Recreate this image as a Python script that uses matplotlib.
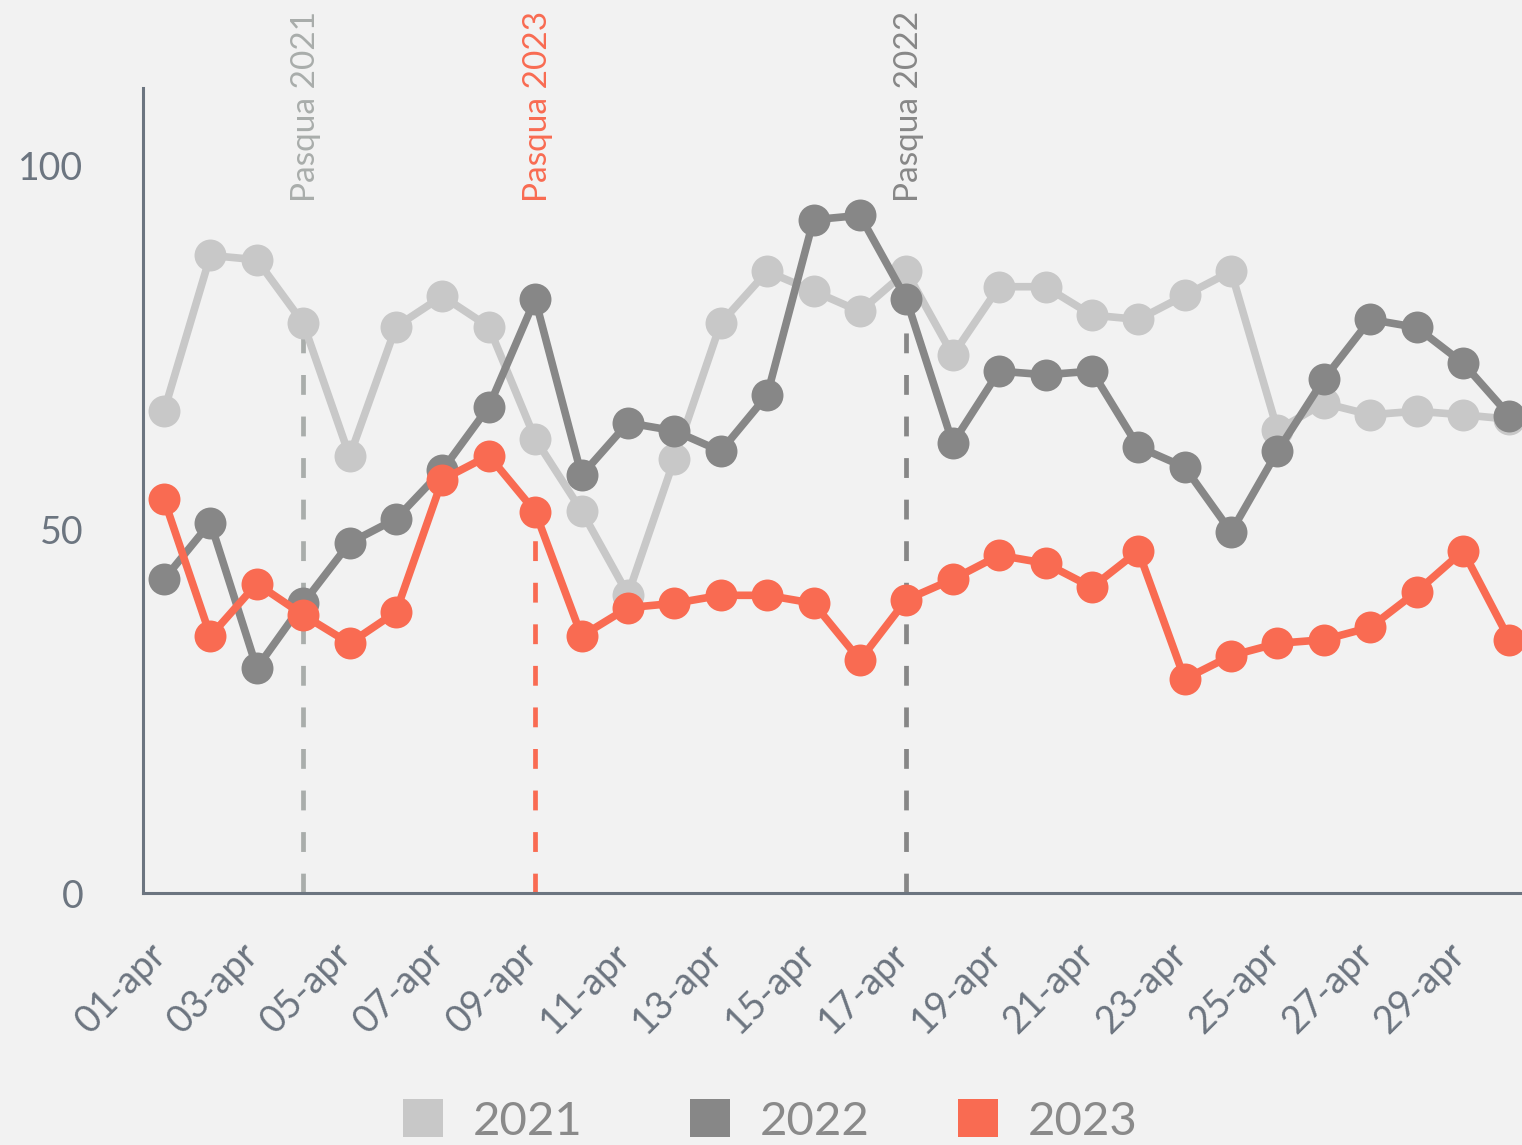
import numpy as np
import matplotlib.pyplot as plt
import matplotlib.transforms as mtransforms
from matplotlib.patches import Patch

plt.rcParams['font.family'] = ['Lato', 'DejaVu Sans']

days = ['%02d-apr' % d for d in range(1, 31)]

v2021 = [66.2, 87.6, 87.0, 78.3, 60.0, 77.8, 82.0, 77.8, 62.4, 52.5,
         41.0, 59.6, 78.3, 85.4, 82.7, 79.9, 85.4, 73.9, 83.3, 83.3,
         79.4, 78.8, 82.1, 85.4, 63.6, 67.3, 65.7, 66.2, 65.7, 65.1]
v2022 = [43.1, 50.9, 30.9, 39.8, 48.1, 51.4, 58.1, 66.8, 81.6, 57.4,
         64.6, 63.5, 60.7, 68.4, 92.5, 93.1, 81.6, 61.8, 71.7, 71.2,
         71.7, 61.3, 58.5, 49.6, 60.7, 70.6, 78.8, 77.7, 72.8, 65.6]
v2023 = [54.1, 35.3, 42.5, 38.2, 34.3, 38.6, 56.8, 60.1, 52.4, 35.3,
         39.2, 39.8, 40.9, 40.9, 39.8, 32.0, 40.3, 43.1, 46.4, 45.3,
         42.0, 47.0, 29.4, 32.6, 34.3, 34.8, 36.5, 41.4, 47.0, 34.8]

years = ['2021', '2022', '2023']
colors = ['#c8c8c8', '#878787', '#f96b52']

# easter day index per year, label color
easter_idx = [3, 16, 8]
easter_col = ['#a9adab', '#878787', '#f96b52']

bg = '#f2f2f2'
axcol = '#6c7580'

fig = plt.figure(figsize=(15.22, 11.45), dpi=100, facecolor=bg)
ax = fig.add_axes([143/1522, 252/1145, 1 - 143/1522, 805/1145])
ax.set_facecolor(bg)

x = np.arange(len(days))
series = [v2021, v2022, v2023]

for i, (vals, idx) in enumerate(zip(series, easter_idx)):
    ax.vlines(x[idx], 0, vals[idx], colors=easter_col[i], linewidth=3.4,
              linestyles=(0, (4.2, 4.6)), zorder=1)
    ax.text(x[idx] + 0.06, 0.858, 'Pasqua ' + years[i], transform=ax.get_xaxis_transform(),
            rotation=90, ha='center', va='bottom', fontsize=24, color=easter_col[i],
            clip_on=False)

for i, vals in enumerate(series):
    ax.plot(x, vals, color=colors[i], linewidth=5.5, marker='o', markersize=23,
            markeredgewidth=0, zorder=2 + i, clip_on=True)

ax.set_xlim(-0.453, 29.27)
ax.set_ylim(0, 110.6)

for s in ['top', 'right']:
    ax.spines[s].set_visible(False)
for s in ['left', 'bottom']:
    ax.spines[s].set_color(axcol)
    ax.spines[s].set_linewidth(2.2)

ax.set_yticks([0, 50, 100])
ax.set_yticklabels(['0', '50', '100'])
ax.tick_params(axis='y', length=0, pad=43, labelsize=27, labelcolor=axcol)

ax.set_xticks(x[::2])
ax.set_xticklabels(days[::2], rotation=45, ha='right', va='top')
ax.tick_params(axis='x', length=0, pad=31, labelsize=27, labelcolor=axcol)
off = mtransforms.ScaledTranslation(9/100, 0, fig.dpi_scale_trans)
for lab in ax.get_xticklabels():
    lab.set_transform(lab.get_transform() + off)

# legend: one entry each, placed where the squares start
leg_x = [403, 690, 958]
for c, yr, lx in zip(colors, years, leg_x):
    leg = fig.legend([Patch(facecolor=c, edgecolor='none')], [yr], loc='center left',
                     bbox_to_anchor=(lx / 1522, 0.021), frameon=False, fontsize=34,
                     handlelength=0.85, handleheight=0.85, handletextpad=0.63,
                     borderpad=0, borderaxespad=0)
    for t in leg.get_texts():
        t.set_color('#8a8a8a')

fig.savefig('out.png', dpi=100, facecolor=bg)
